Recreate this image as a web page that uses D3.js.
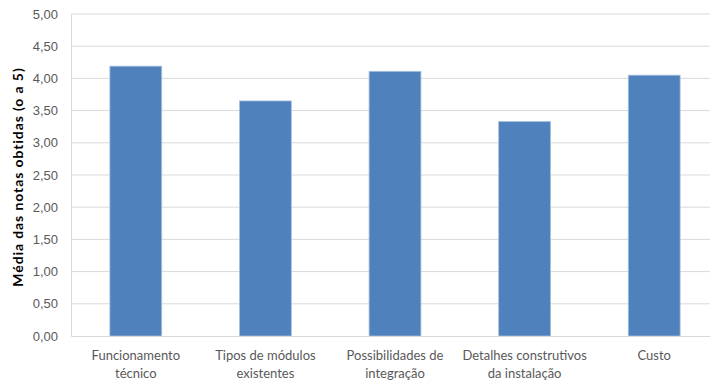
<!DOCTYPE html>
<html>
<head>
<meta charset="utf-8">
<script src="https://cdn.jsdelivr.net/npm/d3@7"></script>
<style>
  body { margin: 0; background: #fff; }
  svg { display: block; font-family: Lato, "Open Sans", sans-serif; }
</style>
</head>
<body>
<svg id="chart" width="710" height="381"></svg>
<script>
// chart data
const categories = [
    ['Funcionamento', 'técnico'],
    ['Tipos de módulos', 'existentes'],
    ['Possibilidades de', 'integração'],
    ['Detalhes construtivos', 'da instalação'],
    ['Custo']
];
const values = [4.19, 3.65, 4.11, 3.33, 4.05];
const yTicks = [0, 0.5, 1, 1.5, 2, 2.5, 3, 3.5, 4, 4.5, 5];
const yTitle = 'Média das notas obtidas (o a 5)';

const svg = d3.select('#chart');
const margin = { left: 71, top: 14, right: -9, bottom: 45 };
const width = 710 - margin.left - margin.right;
const height = 381 - margin.top - margin.bottom;

const g = svg.append('g').attr('transform', `translate(${margin.left},${margin.top})`);

const x = d3.scaleBand()
    .domain(categories.map((d, i) => i))
    .range([0, width])
    .paddingInner(0.6)
    .paddingOuter(0.3);

const y = d3.scaleLinear().domain([0, 5]).range([height, 0]);
const fmt = v => d3.format('.2f')(v).replace('.', ',');

// gridlines
g.selectAll('.grid')
    .data(yTicks.filter(t => t > 0))
    .enter()
    .append('line')
    .attr('class', 'grid')
    .attr('x1', 0)
    .attr('x2', width)
    .attr('y1', d => y(d))
    .attr('y2', d => y(d))
    .attr('stroke', '#d9d9d9')
    .attr('stroke-width', 1);

// y axis
const yAxis = g.append('g')
    .call(d3.axisLeft(y).tickValues(yTicks).tickFormat(fmt).tickSize(0).tickPadding(13));
yAxis.select('.domain').attr('stroke', '#d9d9d9');
yAxis.selectAll('text')
    .attr('font-size', '13px')
    .attr('fill', '#595959');

// bars
g.selectAll('.bar')
    .data(values)
    .enter()
    .append('rect')
    .attr('class', 'bar')
    .attr('x', (d, i) => x(i))
    .attr('width', x.bandwidth())
    .attr('y', d => y(d))
    .attr('height', d => height - y(d))
    .attr('fill', '#4f81bd')
    .attr('stroke', '#a7c0de')
    .attr('stroke-width', 0.8);

// x axis
const xAxis = g.append('g')
    .attr('transform', `translate(0,${height})`)
    .call(d3.axisBottom(x).tickSize(0).tickFormat(''));
xAxis.select('.domain').attr('stroke', '#d9d9d9');

const labels = g.selectAll('.cat-label')
    .data(categories)
    .enter()
    .append('text')
    .attr('class', 'cat-label')
    .attr('text-anchor', 'middle')
    .attr('font-size', '13px')
    .attr('fill', '#595959')
    .attr('transform', (d, i) => `translate(${x(i) + x.bandwidth() / 2},${height + 24})`);

labels.selectAll('tspan')
    .data(d => d)
    .enter()
    .append('tspan')
    .attr('x', 0)
    .attr('dy', (d, i) => i === 0 ? 0 : 18)
    .text(d => d);

// y title
svg.append('text')
    .attr('transform', `translate(23,${margin.top + height / 2 + 2}) rotate(-90)`)
    .attr('text-anchor', 'middle')
    .attr('font-size', '14px')
    .attr('font-weight', 'bold')
    .attr('letter-spacing', '0.9px')
    .attr('fill', '#000')
    .text(yTitle);
</script>
</body>
</html>
